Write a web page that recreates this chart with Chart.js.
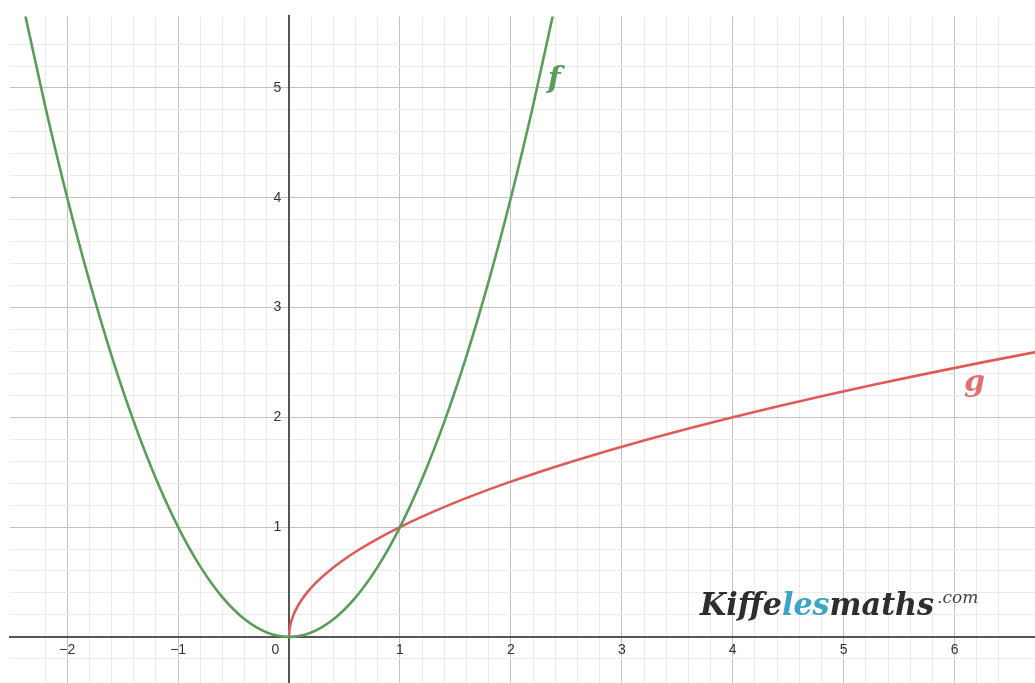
<!DOCTYPE html>
<html>
<head>
<meta charset="utf-8">
<script src="https://cdn.jsdelivr.net/npm/chart.js@4/dist/chart.umd.min.js"></script>
<style>
  html, body { margin: 0; padding: 0; background: #fff; overflow: hidden; }
  #wrap { width: 1043px; height: 699px; }
</style>
</head>
<body>
<div id="wrap"><canvas id="graph"></canvas></div>
<script>
// f : parabola
var fX = [-2.6, -2.4, -2.2, -2.0, -1.8, -1.6, -1.4, -1.2, -1.0, -0.8, -0.6, -0.4, -0.2, 0,
          0.2, 0.4, 0.6, 0.8, 1.0, 1.2, 1.4, 1.6, 1.8, 2.0, 2.2, 2.4, 2.6];
var fY = [6.76, 5.76, 4.84, 4.0, 3.24, 2.56, 1.96, 1.44, 1.0, 0.64, 0.36, 0.16, 0.04, 0,
          0.04, 0.16, 0.36, 0.64, 1.0, 1.44, 1.96, 2.56, 3.24, 4.0, 4.84, 5.76, 6.76];

// g : square root curve
var gX = [0, 0.0025, 0.01, 0.0225, 0.04, 0.0625, 0.09, 0.1225, 0.16, 0.2025, 0.25, 0.36, 0.49,
          0.64, 0.81, 1, 1.21, 1.44, 1.69, 1.96, 2.25, 2.56, 2.89, 3.24, 3.61, 4, 4.41,
          4.84, 5.29, 5.76, 6.25, 6.76, 7.29];
var gY = [0, 0.05, 0.1, 0.15, 0.2, 0.25, 0.3, 0.35, 0.4, 0.45, 0.5, 0.6, 0.7,
          0.8, 0.9, 1, 1.1, 1.2, 1.3, 1.4, 1.5, 1.6, 1.7, 1.8, 1.9, 2, 2.1,
          2.2, 2.3, 2.4, 2.5, 2.6, 2.7];

var xTickLabels = [-2, -1, 0, 1, 2, 3, 4, 5, 6];
var yTickLabels = [1, 2, 3, 4, 5];

var greenCol = "#5a9d5a";
var redCol = "#e05a5a";

function toPoints(xs, ys) {
  return xs.map((x, i) => ({ x: x, y: ys[i] }));
}

function gridColor(ctx) {
  let v = ctx.tick.value;
  let r = Math.round(v * 5);
  if (Math.abs(v * 5 - r) > 1e-6) return "rgba(0,0,0,0)";
  if (r === 0) return "rgba(0,0,0,0)";
  return r % 5 === 0 ? "#c2c2c2" : "#ebebeb";
}

function fmt(v) {
  return String(v).replace("-", "\u2212");
}

// curve names + logo
var labelsPlugin = {
  id: "labels",
  afterDatasetsDraw(chart) {
    let c = chart.ctx;
    let xs = chart.scales.x, ys = chart.scales.y;
    c.save();
    c.textBaseline = "alphabetic";
    c.textAlign = "center";
    c.font = 'italic bold 30px "DejaVu Serif"';
    c.fillStyle = greenCol;
    c.fillText("f", xs.getPixelForValue(2.39), ys.getPixelForValue(5.0));
    c.fillStyle = "#e37070";
    c.fillText("g", xs.getPixelForValue(6.18), ys.getPixelForValue(2.24));

    // watermark
    c.textAlign = "left";
    c.font = 'italic 600 31px "DejaVu Serif"';
    let parts = [["Kiffe", "#2e2e2e"], ["les", "#3ba5c6"], ["maths", "#2e2e2e"]];
    let total = parts.reduce((s, p) => s + c.measureText(p[0]).width, 0);
    let sx = 234 / total;
    let x0 = xs.getPixelForValue(3.705), y0 = ys.getPixelForValue(0.2);
    c.translate(x0, y0);
    c.scale(sx, 1);
    let px = 0;
    parts.forEach(p => {
      c.fillStyle = p[1];
      c.fillText(p[0], px, 0);
      px += c.measureText(p[0]).width;
    });
    c.setTransform(1, 0, 0, 1, 0, 0);
    c.font = 'italic 17px "DejaVu Serif"';
    c.fillStyle = "#444";
    c.fillText(".com", x0 + total * sx + 3, y0 - 12);
    c.restore();
  }
};

var ctx = document.getElementById("graph").getContext("2d");

var chart = new Chart(ctx, {
  type: "scatter",
  data: {
    datasets: [
      {
        label: "f",
        data: toPoints(fX, fY),
        showLine: true,
        borderColor: greenCol,
        borderWidth: 2.6,
        pointRadius: 0,
        cubicInterpolationMode: "monotone",
      },
      {
        label: "g",
        data: toPoints(gX, gY),
        showLine: true,
        borderColor: redCol,
        borderWidth: 2.6,
        pointRadius: 0,
        cubicInterpolationMode: "monotone",
      },
    ],
  },
  options: {
    responsive: true,
    maintainAspectRatio: false,
    animation: false,
    layout: { padding: { left: 10, top: 13, right: 0, bottom: 0 } },
    plugins: {
      legend: { display: false },
      tooltip: { enabled: false },
    },
    scales: {
      x: {
        type: "linear",
        min: -2.516,
        max: 6.752,
        position: { y: 0 },
        grid: { color: gridColor, lineWidth: 1, drawTicks: false },
        border: { display: true, color: "#555", width: 2 },
        ticks: {
          stepSize: 0.2,
          autoSkip: false,
          maxRotation: 0,
          padding: 5,
          color: "#333",
          font: { family: "Liberation Sans", size: 14 },
          callback: function (v) {
            let r = Math.round(v);
            if (Math.abs(v - r) > 1e-6 || xTickLabels.indexOf(r) < 0) return "";
            if (r === 0) return "0       ";
            return fmt(r);
          },
        },
      },
      y: {
        type: "linear",
        min: -0.417,
        max: 5.652,
        position: { x: 0 },
        grid: { color: gridColor, lineWidth: 1, drawTicks: false },
        border: { display: true, color: "#555", width: 2 },
        ticks: {
          stepSize: 0.2,
          autoSkip: false,
          padding: 8,
          color: "#333",
          font: { family: "Liberation Sans", size: 14 },
          callback: function (v) {
            let r = Math.round(v);
            if (Math.abs(v - r) > 1e-6 || yTickLabels.indexOf(r) < 0) return "";
            return fmt(r) + "  ";
          },
        },
      },
    },
  },
  plugins: [labelsPlugin],
});
</script>
</body>
</html>
